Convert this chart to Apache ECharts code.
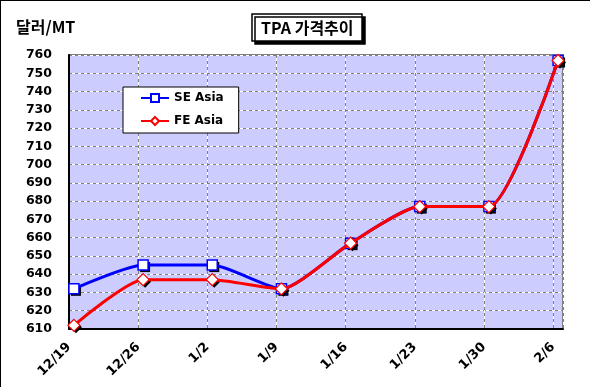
<!DOCTYPE html>
<html><head><meta charset="utf-8">
<script src="https://cdn.jsdelivr.net/npm/echarts@6/dist/echarts.min.js"></script>
<style>html,body{margin:0;padding:0;background:#fff}#c{width:590px;height:387px}</style>
</head><body><div id="c"></div>
<script>
const categories = ['12/19','12/26','1/2','1/9','1/16','1/23','1/30','2/6'];
const dayOffsets = [0,7,14,21,28,35,42,49];
const seAsia = [632,645,645,632,657,677,677,757];
const feAsia = [612,637,637,632,657,677,677,757];
const yTicks = {min:610, max:760, step:10};
const chartTitle = 'TPA 가격추이';
const unitLabel = '달러/MT';

// date-axis style: each point sits in the middle of its day
const midDay = 0.5;
const toPairs = vals => vals.map((v,i)=>[dayOffsets[i]+midDay, v]);

const font = 'DejaVu Sans';
const xBase = {type:'value', min:0, max:50, interval:7, gridIndex:0};
const yBase = {type:'value', min:yTicks.min, max:yTicks.max, interval:yTicks.step};

function shadowSeries(vals, symbol, size, z){
  return {
    type:'line', data:toPairs(vals), xAxisIndex:0, yAxisIndex:0,
    symbol:symbol, symbolSize:size, symbolOffset:[2,2], showSymbol:true,
    lineStyle:{width:0, opacity:0}, itemStyle:{color:'#000', borderWidth:0},
    silent:true, z:z, legendHoverLink:false
  };
}

const chart = echarts.init(document.getElementById('c'), null, {renderer:'canvas'});
chart.setOption({
  animation:false,
  backgroundColor:'#fff',
  title:[{
    text:chartTitle, left:252, top:14,
    padding:[6,9,5,9],
    borderColor:'#000', borderWidth:1.5, backgroundColor:'#fff',
    shadowColor:'#000', shadowOffsetX:3, shadowOffsetY:3, shadowBlur:0,
    textStyle:{fontFamily:'Noto Sans CJK KR', fontWeight:'bold', fontSize:16, color:'#000'}
  },{
    text:unitLabel, left:16, top:19, padding:0,
    textStyle:{fontFamily:'Noto Sans CJK KR', fontWeight:'bold', fontSize:16, color:'#000'}
  }],
  legend:{
    orient:'vertical', left:123, top:87,
    padding:[5,15,6,17], itemGap:11, itemWidth:28, itemHeight:10,
    backgroundColor:'#fff', borderColor:'#000', borderWidth:1,
    textStyle:{fontFamily:font, fontWeight:'bold', fontSize:12, color:'#000'},
    data:['SE Asia','FE Asia']
  },
  grid:{left:69, top:55, right:27, bottom:58, show:true, backgroundColor:'#CCCCFF', borderColor:'#808080', borderWidth:2},
  xAxis:[
    Object.assign({}, xBase, {
      position:'bottom',
      axisLine:{show:true, onZero:false, lineStyle:{color:'#000', width:2}},
      axisTick:{show:false},
      splitLine:{show:true, lineStyle:{color:'#fff', width:1, type:'solid'}},
      axisLabel:{
        rotate:45, margin:16, showMaxLabel:false,
        fontFamily:font, fontWeight:'bold', fontSize:13, color:'#000',
        formatter:v=>{const i=dayOffsets.indexOf(v); return i>=0?categories[i]:'';}
      }
    }),
    Object.assign({}, xBase, {
      position:'bottom', axisLine:{show:false}, axisTick:{show:false}, axisLabel:{show:false},
      splitLine:{show:true, lineStyle:{color:'#808080', width:1, type:[3,3]}}
    })
  ],
  yAxis:[
    Object.assign({}, yBase, {
      axisLine:{show:true, lineStyle:{color:'#000', width:2}},
      axisTick:{show:false},
      splitLine:{show:true, lineStyle:{color:'#fff', width:1, type:'solid'}},
      axisLabel:{margin:17, fontFamily:font, fontWeight:'bold', fontSize:12.5, color:'#000'}
    }),
    Object.assign({}, yBase, {
      position:'left', axisLine:{show:false}, axisTick:{show:false}, axisLabel:{show:false},
      splitLine:{show:true, lineStyle:{color:'#808080', width:1, type:[3,3]}}
    })
  ],
  series:[
    shadowSeries(seAsia, 'rect', 10, 5),
    {
      name:'SE Asia', type:'line', smooth:0.2, data:toPairs(seAsia),
      xAxisIndex:0, yAxisIndex:0,
      symbol:'rect', symbolSize:10,
      lineStyle:{color:'#0000FF', width:3},
      itemStyle:{color:'#fff', borderColor:'#0000FF', borderWidth:1.5},
      z:6
    },
    shadowSeries(feAsia, 'diamond', 12, 7),
    {
      name:'FE Asia', type:'line', smooth:0.2, data:toPairs(feAsia),
      xAxisIndex:0, yAxisIndex:0,
      symbol:'diamond', symbolSize:12,
      lineStyle:{color:'#FF0000', width:3},
      itemStyle:{color:'#fff', borderColor:'#FF0000', borderWidth:1.2},
      z:8
    }
  ],
  graphic:[
    {type:'line', shape:{x1:0, y1:0.5, x2:590, y2:0.5}, style:{stroke:'#000', lineWidth:1}},
    {type:'line', shape:{x1:0.5, y1:0, x2:0.5, y2:387}, style:{stroke:'#000', lineWidth:1}}
  ]
});
</script></body></html>
